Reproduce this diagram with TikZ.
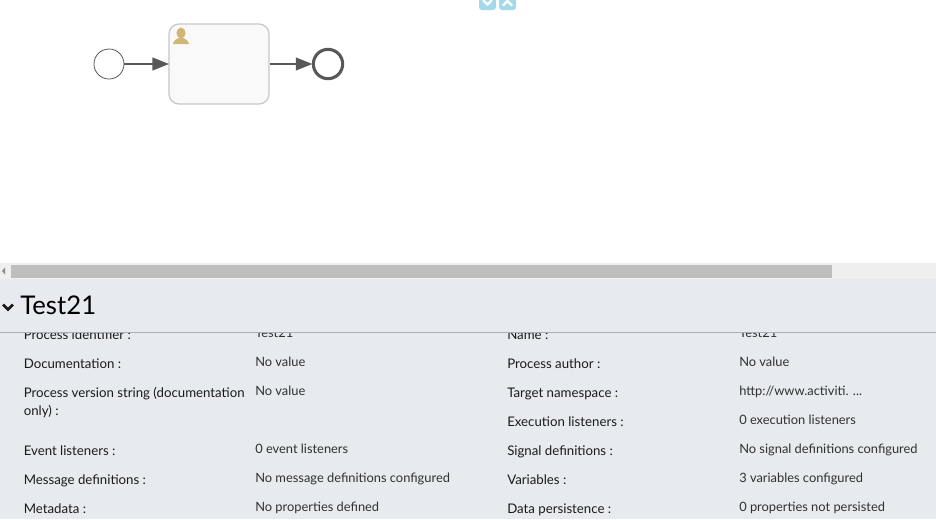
\documentclass[tikz,border=0pt]{standalone}
\usepackage{fontspec}
\setmainfont{Lato}
\usetikzlibrary{arrows.meta}
\definecolor{panel}{HTML}{E7EBEF}
\definecolor{track}{HTML}{EFEFEF}
\definecolor{thumb}{HTML}{BEBEBE}
\definecolor{rulec}{HTML}{A9AFBD}
\definecolor{flowc}{HTML}{585858}
\definecolor{iconc}{HTML}{D1B574}
\definecolor{btn}{HTML}{A3D9E8}
\definecolor{labelc}{HTML}{1A1A1A}
\definecolor{valuec}{HTML}{303030}
\tikzset{
  x=0.75pt,y=-0.75pt,
  startev/.style={circle,draw=flowc,line width=0.6pt,fill=white,minimum size=22.5pt,inner sep=0pt},
  endev/.style={circle,draw=flowc,line width=2.3pt,fill=white,minimum size=22pt,inner sep=0pt},
  taskbox/.style={rectangle,rounded corners=7.5pt,draw=black!22,line width=0.9pt,fill=black!2.5,minimum width=75pt,minimum height=60pt,inner sep=0pt},
  flow/.style={draw=flowc,line width=1.5pt,-{Triangle[length=12.5pt,width=9.5pt,fill=flowc]},shorten >=-0.5pt},
  lab/.style={anchor=base west,inner sep=0pt,font=\fontsize{9.93pt}{12pt}\selectfont,text=labelc},
  val/.style={anchor=base west,inner sep=0pt,font=\fontsize{9.65pt}{12pt}\selectfont,text=valuec},
  title/.style={anchor=base west,inner sep=0pt,font=\fontsize{19.3pt}{23pt}\selectfont,text=black}
}
\begin{document}
\begin{tikzpicture}
\useasboundingbox (0,0) rectangle (936,519);
\fill[white] (0,0) rectangle (936,519);
% toolbar buttons
\begin{scope}
\clip (0,0) rectangle (936,519);
\fill[btn,rounded corners=2.2pt] (479,-6) rectangle (496,10);
\fill[btn,rounded corners=2.2pt] (499,-6) rectangle (516,10);
\draw[white,line width=1.8pt] (483,0) -- (487.5,4.5) -- (492,0);
\draw[white,line width=1.8pt] (503,5.5) -- (507.5,1) -- (512,5.5);
\end{scope}
% scrollbar and panel
\fill[track] (0,263) rectangle (936,279);
\fill[thumb] (11,265) rectangle (832,278);
\fill[black!45] (2,271) -- (5,267.5) -- (5,274.5) -- cycle;
\fill[panel] (0,279) rectangle (936,519);
% process
\node[startev] (start) at (109,64) {};
\node[taskbox] (task) at (219,64) {};
\node[endev] (end) at (328,64) {};
\draw[flow] (start) -- (task);
\draw[flow] (task) -- (end);
% user icon
\fill[iconc] (181,33) ellipse (4.6 and 5.4);
\fill[iconc] (172.7,44) .. controls (173,41) and (176,39.5) .. (178.5,38) -- (183.5,38) .. controls (186,39.5) and (189,41) .. (189.3,44) -- cycle;
% title
\draw[black!90,line width=1.9pt] (3,304.5) -- (8,309.5) -- (13,304.5);
\node[title] (ttl) at (20,314) {Test21};
% table
\begin{scope}
\clip (0,332.5) rectangle (936,519);
\node[lab] (l1) at (23.5,339) {Process identifier :};
\node[val] (v1) at (255,337) {Test21};
\node[lab] (r1) at (507,339) {Name :};
\node[val] (w1) at (739,337) {Test21};
\end{scope}
\draw[rulec,line width=0.75pt] (0,332.5) -- (936,332.5);
\node[lab] (l2) at (23.5,368) {Documentation :};
\node[val] (v2) at (255,366) {No value};
\node[lab] (l3) at (23.5,397) {Process version string (documentation};
\node[lab] (l3b) at (23.5,415) {only) :};
\node[val] (v3) at (255,395) {No value};
\node[lab] (l4) at (23.5,455) {Event listeners :};
\node[val] (v4) at (255,453) {0 event listeners};
\node[lab] (l5) at (23.5,484) {Message definitions :};
\node[val] (v5) at (255,482) {No message definitions configured};
\node[lab] (l6) at (23.5,513) {Metadata :};
\node[val] (v6) at (255,511) {No properties defined};
\node[lab] (r2) at (507,368) {Process author :};
\node[val] (w2) at (739,366) {No value};
\node[lab] (r3) at (507,397) {Target namespace :};
\node[val] (w3) at (739,395) {http://www.activiti. ...};
\node[lab] (r4) at (507,426) {Execution listeners :};
\node[val] (w4) at (739,424) {0 execution listeners};
\node[lab] (r5) at (507,455) {Signal definitions :};
\node[val] (w5) at (739,453) {No signal definitions configured};
\node[lab] (r6) at (507,484) {Variables :};
\node[val] (w6) at (739,482) {3 variables configured};
\node[lab] (r7) at (507,513) {Data persistence :};
\node[val] (w7) at (739,511) {0 properties not persisted};
\end{tikzpicture}
\end{document}
